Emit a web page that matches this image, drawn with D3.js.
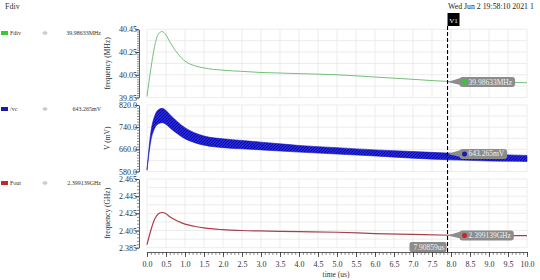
<!DOCTYPE html>
<html>
<head>
<meta charset="utf-8">
<script src="https://cdn.jsdelivr.net/npm/d3@7"></script>
<style>
  body { margin: 0; background: #fff; }
  svg text { font-family: "Liberation Serif", "DejaVu Serif", serif; }
</style>
</head>
<body>
<svg id="chart" width="540" height="280"></svg>
<script>
// time samples (us)
const tVals    = [0, 0.1, 0.2, 0.3, 0.4, 0.5, 0.6, 0.8, 1.0, 1.25, 1.5, 2.0, 2.5, 3.0, 3.5, 4.0, 5.0, 6.0, 7.0, 8.0, 9.0, 10.0];
// Fdiv (MHz)
const fdivMHz  = [39.86, 40.10, 40.30, 40.41, 40.43, 40.40, 40.34, 40.24, 40.17, 40.13, 40.11, 40.09, 40.08, 40.07, 40.065, 40.06, 40.05, 40.03, 40.01, 39.99, 39.985, 39.98];
// /vc ripple envelope (mV)
const vcUpper  = [585, 720, 780, 803, 808, 800, 786, 760, 738, 720, 708, 698, 692, 686, 680, 674, 666, 658, 652, 646, 642, 638];
const vcLower  = [585, 690, 735, 752, 756, 750, 738, 716, 698, 684, 675, 666, 662, 658, 654, 650, 643, 636, 628, 622, 618, 616];
// Fout (GHz)
const foutGHz  = [2.3885, 2.405, 2.418, 2.4245, 2.426, 2.4245, 2.421, 2.416, 2.4125, 2.410, 2.408, 2.406, 2.405, 2.4045, 2.404, 2.4037, 2.403, 2.4015, 2.4005, 2.3995, 2.3992, 2.399];

const fdivTicks = [39.85, 40.05, 40.25, 40.45];
const vcTicks   = [580, 660, 740, 820];
const foutTicks = [2.385, 2.405, 2.425, 2.445, 2.465];
const timeTicks = [0, 0.5, 1, 1.5, 2, 2.5, 3, 3.5, 4, 4.5, 5, 5.5, 6, 6.5, 7, 7.5, 8, 8.5, 9, 9.5, 10];

const cursorTime = 7.90859;
const legendNames  = ["Fdiv", "/vc", "Fout"];
const legendValues = ["39.98633MHz", "643.265mV", "2.399139GHz"];
const cursorValues = [39.98633, 643.265, 2.399139];

const svg = d3.select("#chart");
svg.append("rect").attr("width", 540).attr("height", 280).attr("fill", "#fff");

const x = d3.scaleLinear().domain([0, 10]).range([147, 527]);
const AXIS_X = 139;

const panels = [
  { domain: [39.85, 40.45], range: [97.5, 29.3], ticks: fdivTicks, minor: 0.02, fmt: d3.format(".2f"), label: "frequency (MHz)", color: "#2ecc2e" },
  { domain: [580, 820],     range: [171.5, 105], ticks: vcTicks,   minor: 10,   fmt: d3.format(".1f"), label: "V (mV)",          color: "#1a1aa8" },
  { domain: [2.385, 2.465], range: [247.7, 179], ticks: foutTicks, minor: 0.004, fmt: d3.format(".3f"), label: "frequency (GHz)", color: "#c0282e" }
];
panels.forEach(p => { p.y = d3.scaleLinear().domain(p.domain).range(p.range); });

// hatch pattern for the ripple band
const defs = svg.append("defs");
const pat = defs.append("pattern").attr("id", "vcHatch")
  .attr("patternUnits", "userSpaceOnUse").attr("width", 3).attr("height", 3);
pat.append("rect").attr("width", 3).attr("height", 3).attr("fill", "#2424e8");
pat.append("path").attr("d", "M0,3 L3,0").attr("stroke", "#0b0b7a").attr("stroke-width", 0.9);

// grid + axes for every panel
panels.forEach(p => {
  const g = svg.append("g");
  const [y0, y1] = p.range;
  g.selectAll("line.v").data(timeTicks).join("line")
    .attr("x1", d => x(d)).attr("x2", d => x(d))
    .attr("y1", y1).attr("y2", y0)
    .attr("stroke", "#e4e4e4").attr("stroke-width", 0.7);
  const step = (p.ticks[1] - p.ticks[0]) / 2;
  const hLines = d3.range(0, (p.ticks.length - 1) * 2 + 1).map(i => p.ticks[0] + i * step);
  g.selectAll("line.h").data(hLines).join("line")
    .attr("x1", x(0)).attr("x2", x(10))
    .attr("y1", d => p.y(d)).attr("y2", d => p.y(d))
    .attr("stroke", "#e4e4e4").attr("stroke-width", 0.7);

  const n = Math.round((p.domain[1] - p.domain[0]) / p.minor);
  const minors = d3.range(0, n + 1).map(i => p.domain[0] + i * p.minor);
  svg.append("g").attr("transform", `translate(${AXIS_X},0)`)
    .call(d3.axisLeft(p.y).tickValues(minors).tickSize(2).tickFormat("").tickSizeOuter(0))
    .call(a => a.select(".domain").attr("stroke", "#333").attr("stroke-width", 0.8))
    .call(a => a.selectAll(".tick line").attr("stroke", "#444").attr("stroke-width", 0.6));
  svg.append("g").attr("transform", `translate(${AXIS_X},0)`)
    .call(d3.axisLeft(p.y).tickValues(p.ticks).tickSize(4).tickFormat(p.fmt).tickSizeOuter(0))
    .call(a => a.select(".domain").remove())
    .call(a => a.selectAll(".tick line").attr("stroke", "#333").attr("stroke-width", 0.8))
    .call(a => a.selectAll(".tick text").attr("font-family", "Liberation Serif").attr("font-size", 8).attr("fill", "#333").attr("x", -2));

  svg.append("text")
    .attr("transform", `translate(110,${(y0 + y1) / 2}) rotate(-90)`)
    .attr("text-anchor", "middle").attr("font-size", 7.5).attr("fill", "#333")
    .text(p.label);
});

// curves
const fdivLine = d3.line().x((d, i) => x(tVals[i])).y(d => panels[0].y(d)).curve(d3.curveMonotoneX);
svg.append("path").datum(fdivMHz).attr("d", fdivLine)
  .attr("fill", "none").attr("stroke", "#73c07a").attr("stroke-width", 1);

const vcArea = d3.area().x((d, i) => x(tVals[i]))
  .y0((d, i) => panels[1].y(vcLower[i])).y1(d => panels[1].y(d)).curve(d3.curveMonotoneX);
svg.append("path").datum(vcUpper).attr("d", vcArea)
  .attr("fill", "url(#vcHatch)").attr("stroke", "#1414b8").attr("stroke-width", 0.6);

const foutLine = d3.line().x((d, i) => x(tVals[i])).y(d => panels[2].y(d)).curve(d3.curveMonotoneX);
svg.append("path").datum(foutGHz).attr("d", foutLine)
  .attr("fill", "none").attr("stroke", "#a8404c").attr("stroke-width", 1.2);

// x axis
const xAxisY = 252;
svg.append("g").attr("transform", `translate(0,${xAxisY})`)
  .call(d3.axisBottom(x).tickValues(d3.range(0, 101).map(i => i / 10)).tickSize(3).tickFormat("").tickSizeOuter(0))
  .call(a => a.select(".domain").attr("stroke", "#333").attr("stroke-width", 0.8))
  .call(a => a.selectAll(".tick line").attr("stroke", "#444").attr("stroke-width", 0.6));
svg.append("g").attr("transform", `translate(0,${xAxisY})`)
  .call(d3.axisBottom(x).tickValues(timeTicks).tickSize(5).tickFormat(d3.format(".1f")).tickSizeOuter(0))
  .call(a => a.select(".domain").remove())
  .call(a => a.selectAll(".tick line").attr("stroke", "#333").attr("stroke-width", 0.8))
  .call(a => a.selectAll(".tick text").attr("font-family", "Liberation Serif").attr("font-size", 8).attr("fill", "#333").attr("y", 9));
svg.append("text").attr("x", 336).attr("y", 277).attr("text-anchor", "middle")
  .attr("font-size", 7.5).attr("fill", "#333").text("time (us)");

// cursor V1
const cx = x(cursorTime);
svg.append("line").attr("x1", cx).attr("x2", cx).attr("y1", 26).attr("y2", xAxisY)
  .attr("stroke", "#000").attr("stroke-width", 1.1).attr("stroke-dasharray", "4,2");
svg.append("rect").attr("x", cx).attr("y", 13).attr("width", 12).attr("height", 13).attr("fill", "#000");
svg.append("text").attr("x", cx + 6).attr("y", 22.5).attr("text-anchor", "middle")
  .attr("font-size", 7).attr("fill", "#fff").text("V1");

// cursor readouts
panels.forEach((p, i) => {
  const cy = p.y(cursorValues[i]);
  const g = svg.append("g");
  const bx = cx + 12;
  const txt = g.append("text").attr("x", bx + 9).attr("y", cy + 2.5)
    .attr("font-size", 7.5).attr("fill", "#f2f2f2").text(legendValues[i]);
  const w = txt.node().getComputedTextLength() + 12;
  g.insert("path", "text").attr("d", `M${cx},${cy} L${bx + 1},${cy - 4} L${bx + 1},${cy + 3} Z`).attr("fill", "#8c8c8c");
  g.insert("rect", "text").attr("x", bx).attr("y", cy - 5).attr("width", w).attr("height", 10)
    .attr("rx", 3).attr("fill", "#8c8c8c");
  g.append("circle").attr("cx", bx + 5).attr("cy", cy).attr("r", 2.5).attr("fill", p.color);
});
{
  const g = svg.append("g");
  const txt = g.append("text").attr("x", cx - 3).attr("y", 250).attr("text-anchor", "end")
    .attr("font-size", 7.5).attr("fill", "#f2f2f2").text(d3.format(".5f")(cursorTime) + "us");
  const w = txt.node().getComputedTextLength() + 6;
  g.insert("rect", "text").attr("x", cx - w - 1).attr("y", 242).attr("width", w).attr("height", 10)
    .attr("rx", 2).attr("fill", "#8c8c8c");
}

// header text
svg.append("text").attr("x", 5).attr("y", 9).attr("font-size", 8).attr("fill", "#333").text("Fdiv");
svg.append("text").attr("x", 448).attr("y", 9).attr("font-size", 7.8).attr("fill", "#222").text("Wed Jun 2 19:58:10 2021  1");

// left legend
const legendY = [33, 109, 183];
legendNames.forEach((name, i) => {
  const g = svg.append("g").attr("transform", `translate(0,${legendY[i]})`);
  g.append("rect").attr("x", 1).attr("y", -2).attr("width", 7).attr("height", 4).attr("fill", panels[i].color);
  g.append("text").attr("x", 10).attr("y", 2).attr("font-size", 6).attr("font-family", "DejaVu Sans").attr("fill", "#333").text(name);
  g.append("ellipse").attr("cx", 45).attr("cy", 0).attr("rx", 2).attr("ry", 1.3)
    .attr("fill", "none").attr("stroke", "#999").attr("stroke-width", 0.6);
  g.append("circle").attr("cx", 45).attr("cy", 0).attr("r", 0.7).attr("fill", "#999");
  g.append("text").attr("x", 101).attr("y", 2).attr("text-anchor", "end").attr("font-size", 6)
    .attr("font-family", "DejaVu Sans").attr("fill", "#333").text(legendValues[i]);
});
</script>
</body>
</html>
